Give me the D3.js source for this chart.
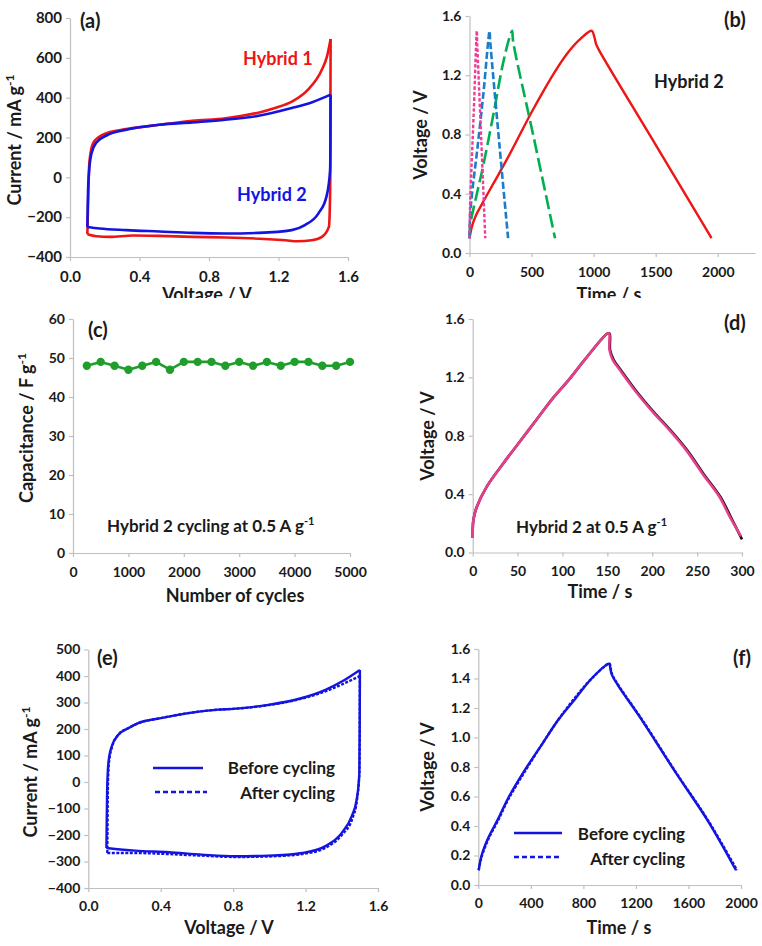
<!DOCTYPE html>
<html><head><meta charset="utf-8">
<script src="https://cdn.jsdelivr.net/npm/d3@7"></script>
<style>
body{margin:0;background:#fff;}
svg{display:block;font-family:Lato,"Open Sans",sans-serif;font-weight:700;}
</style></head><body>
<svg id="c" width="762" height="946"></svg>
<script>
// ---------- DATA ----------
// (a) CV loops [V, mA/g] : anodic (forward) and cathodic (reverse) branches
const hybrid1Fwd = [[0.100,-286],[0.102,-200],[0.105,-97],[0.110,54],[0.118,121],[0.133,171],[0.162,200],[0.21,222],[0.324,242],[0.514,264],[0.705,284],[0.895,297],[0.99,309],[1.09,326],[1.18,348],[1.28,381],[1.37,440],[1.45,541],[1.48,610],[1.5,695]];
const hybrid1Rev = [[1.5,695],[1.499,400],[1.498,0],[1.495,-165],[1.49,-249],[1.45,-299],[1.39,-316],[1.31,-321],[1.24,-316],[1.09,-308],[0.895,-302],[0.705,-299],[0.514,-294],[0.362,-292],[0.229,-299],[0.152,-296],[0.100,-286]];
const hybrid2Fwd = [[0.100,-249],[0.102,-150],[0.104,-64],[0.109,20],[0.124,121],[0.152,175],[0.21,210],[0.324,239],[0.514,264],[0.705,276],[0.895,289],[1.086,309],[1.276,348],[1.39,376],[1.5,415]];
const hybrid2Rev = [[1.5,415],[1.499,200],[1.497,37],[1.476,-97],[1.43,-181],[1.352,-240],[1.276,-265],[1.086,-279],[0.895,-282],[0.705,-279],[0.514,-272],[0.324,-265],[0.17,-257],[0.100,-249]];
// (b) GCD curves [s, V]
const gcdRed = [[0,0.10],[20,0.18],[50,0.25],[100,0.33],[200,0.48],[300,0.63],[400,0.79],[500,0.95],[600,1.10],[700,1.24],[800,1.36],[900,1.45],[985,1.50],[1005,1.46],[1020,1.41],[1050,1.36],[1500,0.73],[1950,0.10]];
const gcdGreen = [[0,0.10],[8,0.20],[54,0.38],[108,0.58],[189,0.92],[270,1.28],[324,1.46],[343,1.50],[351,1.43],[520,0.77],[689,0.10]];
const gcdBlue = [[0,0.10],[5,0.25],[20,0.40],[60,0.68],[110,1.06],[162,1.50],[166,1.44],[240,0.74],[311,0.10]];
const gcdPink = [[0,0.10],[4,0.30],[10,0.45],[35,0.97],[59,1.50],[62,1.42],[95,0.76],[127,0.10]];
// (c) cycling
const cycles = [250,500,750,1000,1250,1500,1750,2000,2250,2500,2750,3000,3250,3500,3750,4000,4250,4500,4750,5000];
const capacitance = [48,49,48,47,48,49,47,49,49,49,48,49,48,49,48,49,49,48,48,49];
// (d) GCD at 0.5 A/g [s, V]
const dBlack = [[0,0.10],[0.7,0.22],[4.4,0.31],[15.5,0.45],[34,0.61],[52.6,0.76],[71,0.91],[89.6,1.06],[108,1.19],[126,1.33],[150,1.50],[152.5,1.50],[153,1.39],[157,1.32],[165,1.25],[183,1.10],[202,0.96],[220,0.84],[239,0.70],[257,0.54],[276,0.38],[287,0.25],[300,0.09]];
const dPink = [[0,0.10],[0.7,0.22],[4.4,0.31],[15.5,0.45],[34,0.61],[52.6,0.76],[71,0.91],[89.6,1.06],[108,1.19],[126,1.33],[150,1.50],[152,1.50],[152.3,1.39],[156,1.32],[164,1.25],[182,1.10],[201,0.96],[219,0.84],[238,0.70],[256,0.54],[275,0.38],[286,0.25],[299,0.11]];
// (e) CV before / after cycling
const beforeFwd = [[0.100,-249],[0.101,-192],[0.104,-29],[0.111,72],[0.129,134],[0.166,178],[0.221,203],[0.276,222],[0.4,241],[0.534,258],[0.718,273],[0.8,276],[0.994,291],[1.18,317],[1.31,348],[1.40,379],[1.5,423]];
const beforeRev = [[1.5,423],[1.499,200],[1.497,34],[1.482,-67],[1.455,-129],[1.40,-192],[1.31,-242],[1.18,-268],[0.994,-278],[0.81,-280],[0.627,-274],[0.443,-265],[0.258,-259],[0.100,-249]];
const afterFwd = [[0.105,-268],[0.106,-192],[0.108,-29],[0.114,72],[0.132,134],[0.168,180],[0.222,204],[0.276,222],[0.4,241],[0.534,258],[0.718,273],[0.8,276],[0.994,290],[1.18,315],[1.31,342],[1.40,368],[1.5,400]];
const afterRev = [[1.5,400],[1.499,200],[1.497,34],[1.484,-67],[1.46,-135],[1.40,-200],[1.31,-248],[1.18,-272],[0.994,-281],[0.81,-283],[0.627,-278],[0.443,-272],[0.258,-268],[0.105,-268]];
// (f) GCD before / after cycling
const gcdBefore = [[3,0.10],[25,0.20],[76,0.32],[152,0.45],[228,0.59],[355,0.78],[482,0.95],[609,1.12],[736,1.26],[863,1.40],[990,1.50],[997,1.50],[1015,1.43],[1066,1.35],[1244,1.12],[1497,0.77],[1751,0.43],[1962,0.10]];
const gcdAfter = [[3,0.10],[25,0.19],[76,0.31],[152,0.44],[228,0.58],[355,0.77],[482,0.95],[609,1.12],[736,1.27],[863,1.40],[990,1.50],[1000,1.50],[1018,1.43],[1070,1.35],[1248,1.12],[1500,0.77],[1755,0.43],[1970,0.10]];
// tick labels
const ticksA_x = [0,0.4,0.8,1.2,1.6], ticksA_y = [-400,-200,0,200,400,600,800];
const ticksB_x = [0,500,1000,1500,2000], ticksV16 = [0,0.4,0.8,1.2,1.6];
const ticksC_x = [0,1000,2000,3000,4000,5000], ticksC_y = [0,10,20,30,40,50,60];
const ticksD_x = [0,50,100,150,200,250,300];
const ticksE_y = [-400,-300,-200,-100,0,100,200,300,400,500];
const ticksF_x = [0,400,800,1200,1600,2000], ticksF_y = [0,0.2,0.4,0.6,0.8,1.0,1.2,1.4,1.6];

// ---------- DRAW ----------
const svg = d3.select('#c');
const AX = '#bfbfbf', TXT = '#1a1a1a';
const RED = '#ee1515', BLUE = '#1414e0';
const f1 = d3.format('.1f'), f0 = d3.format('d');

function panel(o){
  const g = svg.append('g');
  const x = d3.scaleLinear().domain(o.xd).range(o.xr);
  const y = d3.scaleLinear().domain(o.yd).range(o.yr);
  const xa = d3.axisBottom(x).tickValues(o.xt).tickFormat(o.xf).tickSize(4).tickSizeOuter(0).tickPadding(o.xpad||10);
  const ya = d3.axisLeft(y).tickValues(o.yt).tickFormat(o.yf).tickSize(4).tickSizeOuter(0).tickPadding(4);
  const gx = g.append('g').attr('transform',`translate(0,${o.yr[0]})`).call(xa);
  const gy = g.append('g').attr('transform',`translate(${o.xr[0]},0)`).call(ya);
  [gx,gy].forEach(a=>{
    a.attr('font-family',null).attr('font-size',o.fs||14);
    a.select('.domain').attr('stroke',AX).attr('stroke-width',1.2);
    a.selectAll('.tick line').attr('stroke',AX).attr('stroke-width',1.2);
    a.selectAll('.tick text').attr('fill',TXT);
  });
  return {g,x,y};
}
function curve(p, data, color, w, dash, c){
  const line = d3.line().x(d=>p.x(d[0])).y(d=>p.y(d[1])).curve(c||d3.curveCatmullRom.alpha(0.5));
  p.g.append('path').datum(data).attr('d',line).attr('fill','none')
    .attr('stroke',color).attr('stroke-width',w).attr('stroke-dasharray',dash||null)
    .attr('stroke-linejoin','round');
}
// CV branch: sort ascending in voltage and draw with monotone interpolation
function branch(p, data, color, w, dash){
  curve(p, data.slice().sort((a,b)=>a[0]-b[0]), color, w, dash, d3.curveMonotoneX);
}
function label(x,y,t,size,color,anchor){
  return svg.append('text').attr('x',x).attr('y',y).attr('font-size',size)
    .attr('fill',color||TXT).attr('text-anchor',anchor||'start').text(t);
}
function ytitle(x,cy,t,sup){
  const tx = svg.append('text').attr('transform',`translate(${x},${cy}) rotate(-90)`)
    .attr('text-anchor','middle').attr('font-size',18).attr('fill',TXT);
  tx.append('tspan').text(t);
  if(sup) tx.append('tspan').attr('dy',-7).attr('font-size',12).text(sup);
}
function supText(x,y,t,sup,size){
  const tx = svg.append('text').attr('x',x).attr('y',y).attr('font-size',size).attr('fill',TXT);
  tx.append('tspan').text(t);
  tx.append('tspan').attr('dy',-7).attr('font-size',11).text(sup);
}
svg.append('defs').append('clipPath').attr('id','topclip').append('rect').attr('x',0).attr('y',0).attr('width',762).attr('height',298);

// (a)
const pa = panel({xd:[0,1.6],xr:[70,348],yd:[-400,800],yr:[257,18],xt:ticksA_x,yt:ticksA_y,xf:f1,yf:f0,fs:15});
branch(pa, hybrid1Fwd, RED, 2.6); branch(pa, hybrid1Rev, RED, 2.6);
branch(pa, hybrid2Fwd, BLUE, 2.6); branch(pa, hybrid2Rev, BLUE, 2.6);
label(80,28,'(a)',20);
label(243,65,'Hybrid 1',18,RED);
label(237,201,'Hybrid 2',18,BLUE);
ytitle(21,140,'Current / mA g','-1');
label(207,301,'Voltage / V',18,TXT,'middle').attr('clip-path','url(#topclip)');

// (b)
const pb = panel({xd:[0,2300],xr:[469.5,755],yd:[0,1.6],yr:[253,16],xt:ticksB_x,yt:ticksV16,xf:f0,yf:f1});
curve(pb, gcdRed, RED, 2.4);
curve(pb, gcdGreen, '#00b050', 2.6, '14,5');
curve(pb, gcdBlue, '#1c7ccc', 2.6, '7,3');
curve(pb, gcdPink, '#ee3d96', 2.4, '3.5,2');
label(724,27,'(b)',20);
label(654,88,'Hybrid 2',18);
ytitle(427,135,'Voltage / V');
label(609,301,'Time / s',18,TXT,'middle').attr('clip-path','url(#topclip)');

// (c)
const pc = panel({xd:[0,5000],xr:[73,350],yd:[0,60],yr:[553,319],xt:ticksC_x,yt:ticksC_y,xf:f0,yf:f0});
curve(pc, cycles.map((c,i)=>[c,capacitance[i]]), '#1f9e2b', 2.6, null, d3.curveLinear);
pc.g.selectAll('circle.m').data(cycles).join('circle').attr('class','m')
  .attr('cx',d=>pc.x(d)).attr('cy',(d,i)=>pc.y(capacitance[i])).attr('r',4.2).attr('fill','#1f9e2b');
label(88,337,'(c)',20);
supText(107,532,'Hybrid 2 cycling at 0.5 A g','-1',17);
ytitle(33,428,'Capacitance / F g','-1');
label(235,602,'Number of cycles',18,TXT,'middle');

// (d)
const pd = panel({xd:[0,300],xr:[472.7,742],yd:[0,1.6],yr:[552.5,319],xt:ticksD_x,yt:ticksV16,xf:f0,yf:f1});
curve(pd, dBlack, '#111111', 2.6);
curve(pd, dPink, '#e83e8c', 2.6);
label(724,330,'(d)',20);
supText(516,533,'Hybrid 2 at 0.5 A g','-1',17);
ytitle(434,436,'Voltage / V');
label(600,598,'Time / s',18,TXT,'middle');

// (e)
const pe = panel({xd:[0,1.6],xr:[88.3,378],yd:[-400,500],yr:[888,649.5],xt:ticksA_x,yt:ticksE_y,xf:f1,yf:f0,xpad:9});
branch(pe, afterFwd, BLUE, 2.4, '3,1.5'); branch(pe, afterRev, BLUE, 2.4, '3,1.5');
branch(pe, beforeFwd, BLUE, 2.4); branch(pe, beforeRev, BLUE, 2.4);
label(97,665,'(e)',20);
svg.append('line').attr('x1',153).attr('x2',203).attr('y1',768).attr('y2',768).attr('stroke',BLUE).attr('stroke-width',2.6);
svg.append('line').attr('x1',155).attr('x2',207).attr('y1',792).attr('y2',792).attr('stroke',BLUE).attr('stroke-width',2.6).attr('stroke-dasharray','5,3');
label(335,774,'Before cycling',17,TXT,'end');
label(335,799,'After cycling',17,TXT,'end');
ytitle(37,772,'Current / mA g','-1');
label(229,934,'Voltage / V',18,TXT,'middle');

// (f)
const pf = panel({xd:[0,2000],xr:[478.3,741],yd:[0,1.6],yr:[885,649],xt:ticksF_x,yt:ticksF_y,xf:f0,yf:f1,xpad:9});
curve(pf, gcdAfter, BLUE, 2.4, '3,1.5');
curve(pf, gcdBefore, BLUE, 2.4);
label(733,665,'(f)',20);
svg.append('line').attr('x1',514).attr('x2',562).attr('y1',833).attr('y2',833).attr('stroke',BLUE).attr('stroke-width',2.6);
svg.append('line').attr('x1',514).attr('x2',562).attr('y1',857).attr('y2',857).attr('stroke',BLUE).attr('stroke-width',2.6).attr('stroke-dasharray','5,3');
label(685,840,'Before cycling',17,TXT,'end');
label(685,865,'After cycling',17,TXT,'end');
ytitle(434,767,'Voltage / V');
label(619,934,'Time / s',18,TXT,'middle');
</script></body></html>
